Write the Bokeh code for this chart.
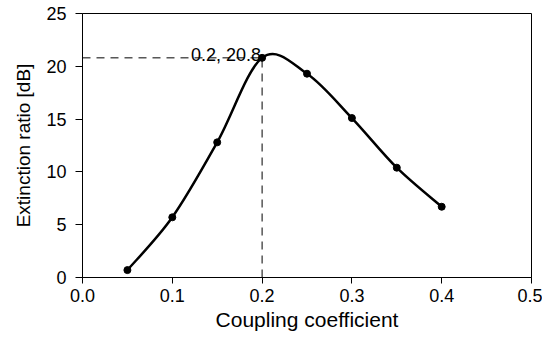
import numpy as np
from bokeh.plotting import figure
from bokeh.models import Range1d, FixedTicker, ColumnDataSource
from bokeh.core.properties import value
from bokeh.embed import file_html
from bokeh.resources import INLINE

# Data
coupling = [0.05, 0.10, 0.15, 0.20, 0.25, 0.30, 0.35, 0.40]
extinction = [0.7, 5.7, 12.8, 20.8, 19.3, 15.1, 10.4, 6.7]
peak_x = 0.2
peak_y = 20.8
peak_label = "0.2, 20.8"
x_ticks = [0.0, 0.1, 0.2, 0.3, 0.4, 0.5]
x_tick_labels = ["0.0", "0.1", "0.2", "0.3", "0.4", "0.5"]
y_ticks = [0, 5, 10, 15, 20, 25]

FONT = "Liberation Sans"

p = figure(width=542, height=340, output_backend="svg", toolbar_location=None,
           x_range=Range1d(0, 0.5), y_range=Range1d(0, 25),
           min_border_left=82, min_border_right=11, min_border_top=13, min_border_bottom=63)
p.background_fill_color = "white"
p.border_fill_color = "white"
p.outline_line_color = "black"
p.outline_line_width = 1
p.outline_line_alpha = 1
p.xgrid.visible = False
p.ygrid.visible = False

for ax in (p.xaxis[0], p.yaxis[0]):
    ax.axis_line_color = "black"
    ax.major_tick_line_color = "black"
    ax.minor_tick_line_color = None
    ax.major_tick_in = 0
    ax.major_label_text_color = "black"
    ax.major_label_text_font = FONT
    ax.major_label_text_font_size = "18px"
    ax.axis_label_text_font = FONT
    ax.axis_label_text_font_style = "normal"
    ax.axis_label_text_color = "black"

p.xaxis.ticker = FixedTicker(ticks=x_ticks)
p.xaxis.major_label_overrides = {t: s for t, s in zip(x_ticks, x_tick_labels)}
p.yaxis.ticker = FixedTicker(ticks=y_ticks)
p.xaxis.major_tick_out = 6
p.yaxis.major_tick_out = 7
p.xaxis.major_label_standoff = 5
p.yaxis.major_label_standoff = 9
p.xaxis.axis_label = "Coupling coefficient"
p.yaxis.axis_label = "Extinction ratio [dB]"
p.xaxis.axis_label_text_font_size = "21px"
p.yaxis.axis_label_text_font_size = "19px"
p.xaxis.axis_label_standoff = 3
p.yaxis.axis_label_standoff = 9

# Smooth curve (Excel-style Bezier through data points)
x = np.array(coupling)
y = np.array(extinction)
n = len(x)
xp = np.concatenate([[x[0]], x, [x[-1]]])
yp = np.concatenate([[y[0]], y, [y[-1]]])
seg = dict(x0=[], y0=[], x1=[], y1=[], cx0=[], cy0=[], cx1=[], cy1=[])
for i in range(n - 1):
    j = i + 1
    seg["x0"].append(x[i]); seg["y0"].append(y[i])
    seg["x1"].append(x[i + 1]); seg["y1"].append(y[i + 1])
    seg["cx0"].append(x[i] + (xp[j + 1] - xp[j - 1]) / 6)
    seg["cy0"].append(y[i] + (yp[j + 1] - yp[j - 1]) / 6)
    seg["cx1"].append(x[i + 1] - (xp[j + 2] - xp[j]) / 6)
    seg["cy1"].append(y[i + 1] - (yp[j + 2] - yp[j]) / 6)
p.bezier(x0="x0", y0="y0", x1="x1", y1="y1", cx0="cx0", cy0="cy0", cx1="cx1", cy1="cy1",
         source=ColumnDataSource(seg), line_color="black", line_width=2.5)

# Dashed guide lines
p.segment(x0=[0, peak_x], y0=[peak_y, 0], x1=[peak_x, peak_x], y1=[peak_y, peak_y],
          line_color="black", line_width=1, line_dash="8 6")

p.scatter(coupling, extinction, size=7, color="black")

p.text(x=[peak_x], y=[peak_y], text=[peak_label], text_align="right",
       text_baseline="alphabetic", x_offset=-1, y_offset=-3,
       text_font=value(FONT), text_font_size="18px", text_color="black")

open("out.html", "w").write(file_html(p, INLINE))
